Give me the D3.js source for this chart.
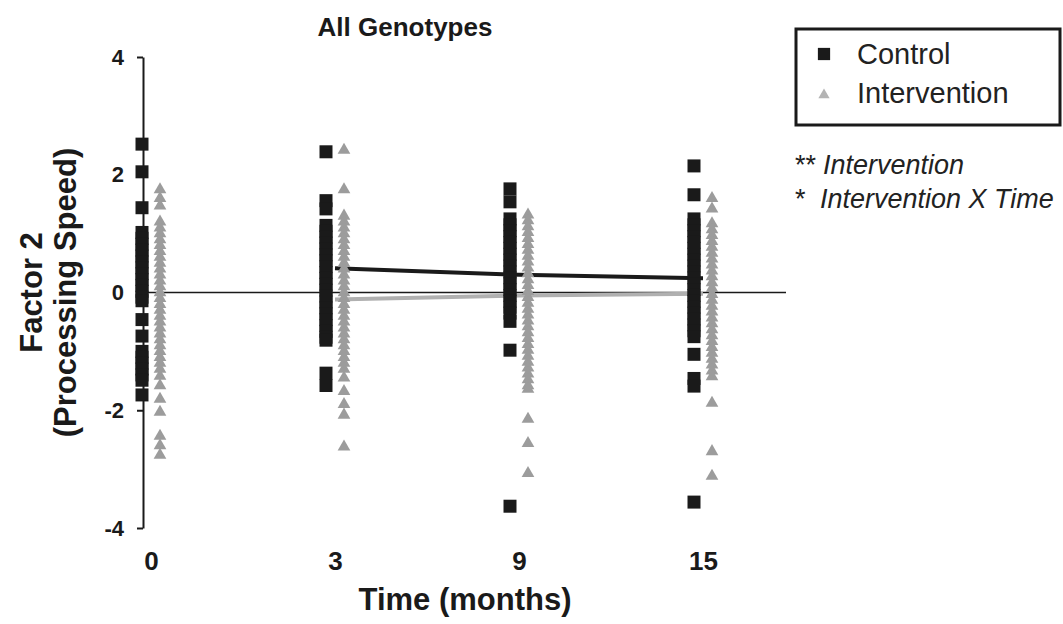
<!DOCTYPE html>
<html>
<head>
<meta charset="utf-8">
<script src="https://cdn.jsdelivr.net/npm/d3@7"></script>
<style>
  body { margin: 0; background: #fff; }
  text { font-family: "Liberation Sans", Arial, sans-serif; }
</style>
</head>
<body>
<script>
// time points (months)
const times = ["0", "3", "9", "15"];

// individual scores, Control group
const control0 = [2.52, 2.05, 1.44, 1.02, 0.92, 0.82, 0.72, 0.62, 0.52, 0.42, 0.32, 0.22, 0.12, 0.02, -0.08, -0.14, -0.46, -0.74, -1.0, -1.1, -1.2, -1.3, -1.4, -1.49, -1.74];
const control3 = [2.39, 1.56, 1.42, 1.14, 1.04, 0.94, 0.84, 0.74, 0.64, 0.54, 0.44, 0.34, 0.24, 0.14, 0.04, -0.06, -0.16, -0.26, -0.36, -0.46, -0.56, -0.66, -0.76, -0.81, -1.37, -1.58];
const control9 = [1.76, 1.54, 1.25, 1.15, 1.05, 0.95, 0.85, 0.75, 0.65, 0.55, 0.45, 0.35, 0.25, 0.15, 0.05, -0.05, -0.15, -0.25, -0.35, -0.49, -0.98, -3.63];
const control15 = [2.15, 1.66, 1.25, 1.15, 1.05, 0.95, 0.85, 0.75, 0.65, 0.55, 0.45, 0.35, 0.25, 0.15, 0.05, -0.05, -0.15, -0.25, -0.35, -0.45, -0.55, -0.65, -0.75, -1.05, -1.46, -1.59, -3.56];

// individual scores, Intervention group
const interv0 = [1.75, 1.6, 1.47, 1.2, 1.1, 1.0, 0.9, 0.8, 0.7, 0.6, 0.5, 0.4, 0.3, 0.2, 0.1, 0.0, -0.1, -0.2, -0.3, -0.4, -0.5, -0.6, -0.7, -0.8, -0.9, -1.0, -1.1, -1.2, -1.3, -1.42, -1.58, -1.81, -2.03, -2.44, -2.6, -2.76];
const interv3 = [2.42, 1.75, 1.3, 1.2, 1.1, 1.0, 0.9, 0.8, 0.7, 0.6, 0.5, 0.4, 0.3, 0.2, 0.1, 0.0, -0.1, -0.2, -0.3, -0.4, -0.5, -0.6, -0.7, -0.8, -0.9, -1.0, -1.1, -1.2, -1.3, -1.45, -1.68, -1.9, -2.08, -2.62];
const interv9 = [1.32, 1.22, 1.12, 1.02, 0.92, 0.82, 0.72, 0.62, 0.52, 0.42, 0.32, 0.22, 0.12, 0.02, -0.08, -0.18, -0.28, -0.38, -0.48, -0.58, -0.68, -0.78, -0.88, -0.98, -1.08, -1.18, -1.28, -1.38, -1.48, -1.58, -1.64, -2.15, -2.56, -3.07];
const interv15 = [1.6, 1.42, 1.17, 1.07, 0.97, 0.87, 0.77, 0.67, 0.57, 0.47, 0.37, 0.27, 0.17, 0.07, -0.03, -0.13, -0.23, -0.33, -0.43, -0.53, -0.63, -0.73, -0.83, -0.93, -1.03, -1.13, -1.23, -1.33, -1.43, -1.88, -2.7, -3.12];

// group means (lines drawn from month 3 on)
const meanTimes = ["3", "9", "15"];
const controlMeans = [0.41, 0.30, 0.24];
const intervMeans = [-0.12, -0.05, -0.02];

const yTicks = [-4, -2, 0, 2, 4];

const width = 1063;
const height = 624;

const svg = d3.select('body')
  .append('svg')
  .attr('width', width)
  .attr('height', height)
  .style('background', '#fff');

const x = d3.scalePoint()
  .domain(times)
  .range([151, 703]);

const y = d3.scaleLinear()
  .domain([-4, 4])
  .range([528, 57]);

const offset = 9;

// title
svg.append('text')
  .attr('x', 405)
  .attr('y', 36)
  .attr('text-anchor', 'middle')
  .style('font-size', '26px')
  .style('font-weight', 'bold')
  .style('fill', '#1a1a1a')
  .text('All Genotypes');

// zero reference line
svg.append('line')
  .attr('x1', x.range()[0] - 8)
  .attr('x2', 786)
  .attr('y1', y(0))
  .attr('y2', y(0))
  .attr('stroke', '#1a1a1a')
  .attr('stroke-width', 1.5);

// mean lines
const line = d3.line()
  .x((d, i) => x(meanTimes[i]))
  .y(d => y(d));

svg.append('path')
  .datum(controlMeans)
  .attr('fill', 'none')
  .attr('stroke', '#1a1a1a')
  .attr('stroke-width', 4)
  .attr('d', line);

svg.append('path')
  .datum(intervMeans)
  .attr('fill', 'none')
  .attr('stroke', '#b0b0b0')
  .attr('stroke-width', 4)
  .attr('d', line);

// points
const controlData = [control0, control3, control9, control15];
const intervData = [interv0, interv3, interv9, interv15];

const square = d3.symbol().type(d3.symbolSquare).size(169);
const triangle = d3.symbol().type(d3.symbolTriangle).size(70);

controlData.forEach((vals, i) => {
  svg.append('g')
    .selectAll('path')
    .data(vals)
    .join('path')
    .attr('d', square)
    .attr('transform', d => 'translate(' + (x(times[i]) - offset) + ',' + y(d) + ')')
    .attr('fill', '#1a1a1a');
});

intervData.forEach((vals, i) => {
  svg.append('g')
    .selectAll('path')
    .data(vals)
    .join('path')
    .attr('d', triangle)
    .attr('transform', d => 'translate(' + (x(times[i]) + offset) + ',' + y(d) + ')')
    .attr('fill', '#9c9c9c');
});

// y-axis
const yAxis = svg.append('g')
  .attr('transform', 'translate(143,0)')
  .call(d3.axisLeft(y)
    .tickValues(yTicks)
    .tickFormat(d => String(d))
    .tickSize(6)
    .tickSizeOuter(0)
    .tickPadding(13));
yAxis.selectAll('path, line')
  .attr('stroke', '#1a1a1a')
  .attr('stroke-width', 2);
yAxis.selectAll('text')
  .style('font-size', '22px')
  .style('font-weight', 'bold')
  .style('font-family', '"Liberation Sans", Arial, sans-serif')
  .attr('fill', '#1a1a1a');

// x labels only, no axis line
const xAxis = svg.append('g')
  .attr('transform', 'translate(0,527)')
  .call(d3.axisBottom(x).tickSize(0).tickPadding(25));
xAxis.select('.domain').remove();
xAxis.selectAll('text')
  .style('font-size', '26px')
  .style('font-weight', 'bold')
  .style('font-family', '"Liberation Sans", Arial, sans-serif')
  .attr('fill', '#1a1a1a');

// axis titles
svg.append('text')
  .attr('x', 465)
  .attr('y', 610)
  .attr('text-anchor', 'middle')
  .style('font-size', '31px')
  .style('font-weight', 'bold')
  .style('fill', '#1a1a1a')
  .text('Time (months)');

const yTitle = svg.append('text')
  .attr('transform', 'translate(0,' + y(0) + ') rotate(-90)')
  .attr('text-anchor', 'middle')
  .style('font-size', '31px')
  .style('font-weight', 'bold')
  .style('fill', '#1a1a1a');
yTitle.append('tspan').attr('x', 0).attr('y', 42).text('Factor 2');
yTitle.append('tspan').attr('x', 0).attr('y', 76).text('(Processing Speed)');

// legend
const legend = svg.append('g');
legend.append('rect')
  .attr('x', 796)
  .attr('y', 29)
  .attr('width', 264)
  .attr('height', 96)
  .attr('fill', 'none')
  .attr('stroke', '#1a1a1a')
  .attr('stroke-width', 3);
legend.append('path')
  .attr('d', d3.symbol().type(d3.symbolSquare).size(150))
  .attr('transform', 'translate(824,54)')
  .attr('fill', '#1a1a1a');
legend.append('path')
  .attr('d', d3.symbol().type(d3.symbolTriangle).size(55))
  .attr('transform', 'translate(824,95)')
  .attr('fill', '#b4b4b4');
legend.append('text')
  .attr('x', 857)
  .attr('y', 64)
  .style('font-size', '29px')
  .style('fill', '#222')
  .text('Control');
legend.append('text')
  .attr('x', 857)
  .attr('y', 103)
  .style('font-size', '29px')
  .style('fill', '#222')
  .text('Intervention');

// significance notes
svg.append('text')
  .attr('x', 795)
  .attr('y', 174)
  .style('font-size', '27px')
  .style('fill', '#222')
  .text('**');
svg.append('text')
  .attr('x', 823)
  .attr('y', 174)
  .style('font-size', '27px')
  .style('font-style', 'italic')
  .style('fill', '#222')
  .text('Intervention');
svg.append('text')
  .attr('x', 795)
  .attr('y', 208)
  .style('font-size', '27px')
  .style('fill', '#222')
  .text('*');
svg.append('text')
  .attr('x', 820)
  .attr('y', 208)
  .style('font-size', '27px')
  .style('font-style', 'italic')
  .style('fill', '#222')
  .text('Intervention X Time');
</script>
</body>
</html>
